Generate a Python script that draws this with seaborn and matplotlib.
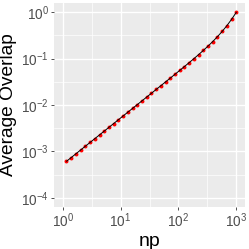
import matplotlib
matplotlib.use("Agg")
import matplotlib.pyplot as plt
from matplotlib.ticker import FixedLocator, NullFormatter
import seaborn as sns
import pandas as pd

np_values = [1.164, 1.405, 1.694, 2.044, 2.466, 2.975, 3.589, 4.330, 5.224, 6.302,
             7.603, 9.173, 11.07, 13.35, 16.11, 19.43, 23.44, 28.28, 34.12, 41.16,
             49.66, 59.91, 72.28, 87.20, 105.2, 126.9, 153.1, 184.7, 222.8, 268.9,
             324.3, 391.3, 472.1, 569.5, 687.1, 828.9, 1000.0]
avg_overlap = [6.10e-4, 7.36e-4, 8.88e-4, 1.071e-3, 1.292e-3, 1.559e-3, 1.881e-3,
               2.269e-3, 2.737e-3, 3.302e-3, 3.984e-3, 4.807e-3, 5.801e-3, 6.995e-3,
               8.444e-3, 1.0185e-2, 1.229e-2, 1.483e-2, 1.790e-2, 2.160e-2, 2.608e-2,
               3.150e-2, 3.805e-2, 4.601e-2, 5.568e-2, 6.747e-2, 8.193e-2, 9.978e-2,
               0.1220, 0.1502, 0.1862, 0.2336, 0.2975, 0.3863, 0.5145, 0.7054, 1.000]
x_ticks = [1, 10, 100, 1000]
x_tick_labels = [r"$\mathregular{10^{0}}$", r"$\mathregular{10^{1}}$",
                 r"$\mathregular{10^{2}}$", r"$\mathregular{10^{3}}$"]
y_ticks = [1e-4, 1e-3, 1e-2, 1e-1, 1]
y_tick_labels = [r"$\mathregular{10^{-4}}$", r"$\mathregular{10^{-3}}$",
                 r"$\mathregular{10^{-2}}$", r"$\mathregular{10^{-1}}$",
                 r"$\mathregular{10^{0}}$"]

df = pd.DataFrame({"np": np_values, "overlap": avg_overlap})

sns.set_theme(style="darkgrid")
plt.rcParams["font.family"] = ["Liberation Sans", "DejaVu Sans"]

fig = plt.figure(figsize=(2.49, 2.49), dpi=100)
ax = fig.add_axes([54 / 249, 1 - 207 / 249, (245 - 54) / 249, (207 - 3) / 249])
ax.set_facecolor("#EBEBEB")

ax.set_xscale("log")
ax.set_yscale("log")

sns.scatterplot(data=df, x="np", y="overlap", ax=ax, color="#FF0000", s=8,
                linewidth=0, zorder=3)
sns.lineplot(data=df, x="np", y="overlap", ax=ax, color="black", linewidth=0.7,
             zorder=4)

ax.set_xlim(10 ** -0.15, 10 ** 3.15)
ax.set_ylim(10 ** -4.2, 10 ** 0.2)

ax.xaxis.set_major_locator(FixedLocator(x_ticks))
ax.set_xticklabels(x_tick_labels)
ax.yaxis.set_major_locator(FixedLocator(y_ticks))
ax.set_yticklabels(y_tick_labels)
ax.xaxis.set_minor_locator(FixedLocator([10 ** (k + 0.5) for k in range(-1, 4)]))
ax.yaxis.set_minor_locator(FixedLocator([10 ** (k + 0.5) for k in range(-5, 1)]))
ax.xaxis.set_minor_formatter(NullFormatter())
ax.yaxis.set_minor_formatter(NullFormatter())

ax.grid(which="major", color="white", linewidth=1.0)
ax.grid(which="minor", color="white", linewidth=0.5)
for s in ax.spines.values():
    s.set_visible(False)

ax.tick_params(which="major", length=2, width=0.6, color="#333333",
               labelsize=9.8, labelcolor="#4D4D4D", pad=1.5, bottom=True, left=True)
ax.tick_params(which="minor", length=0)

ax.set_xlabel("np", fontsize=14, color="black", labelpad=2)
ax.set_ylabel("Average Overlap", fontsize=13.8, color="black", labelpad=3)

fig.savefig("out.png", dpi=100)
